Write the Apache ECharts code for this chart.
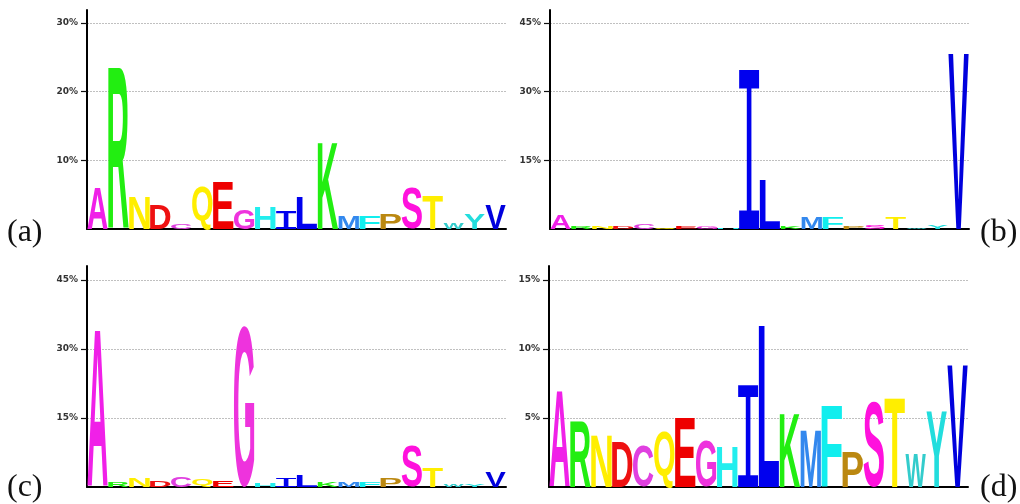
<!DOCTYPE html>
<html>
<head>
<meta charset="utf-8">
<script src="https://cdn.jsdelivr.net/npm/echarts@6/dist/echarts.min.js"></script>
<style>
  html, body { margin: 0; padding: 0; background: #ffffff; }
  #chart { width: 1020px; height: 504px; }
</style>
</head>
<body>
<div id="chart"></div>
<script>
// Amino-acid residues in logo order and their colours
const residues = ['A','R','N','D','C','Q','E','G','H','I','L','K','M','F','P','S','T','W','Y','V'];
const residueColors = ['#f020e8','#22ee11','#ffee00','#ee1111','#e040e0','#ffee00','#ee0000','#ee33dd','#22eeee','#0000ee',
                       '#0000ee','#22ee11','#3388ee','#11eeee','#bb8811','#ff11dd','#ffee00','#33cccc','#22dddd','#0000dd'];

// Residue frequencies (%) for the four panels
const freqA = [6.0, 23.5, 4.7, 3.6, 0.8, 6.2, 6.9, 2.9, 3.2, 2.75, 4.7, 12.65, 1.8, 1.8, 2.3, 5.9, 4.9, 0.9, 2.3, 3.6];
const freqB = [3.2, 0.5, 0.5, 0.4, 1.2, 0.4, 0.6, 0.6, 0.3, 35.1, 10.6, 0.4, 2.6, 2.6, 0.6, 0.9, 2.5, 0.3, 0.7, 38.2];
const freqC = [33.9, 1.1, 1.9, 1.4, 2.2, 1.6, 1.4, 35.0, 0.7, 1.9, 2.4, 1.2, 1.0, 1.1, 1.8, 8.9, 4.1, 0.4, 0.5, 3.3];
const freqD = [6.9, 4.8, 3.7, 3.2, 2.9, 4.1, 5.0, 3.3, 2.9, 7.4, 11.7, 5.3, 4.1, 5.9, 2.5, 6.2, 6.4, 2.4, 5.5, 8.8];

// Per-panel axis settings and tick labels
const panelLabels = ['(a)', '(b)', '(c)', '(d)'];
const axisMax = [31.9, 47.8, 48.0, 16.0];
const tickValues = [[10, 20, 30], [15, 30, 45], [15, 30, 45], [5, 10, 15]];

const panelData = [freqA, freqB, freqC, freqD];

// Plot areas of the 2x2 layout
const grids = [
  { left: 87,  top: 10,  width: 419, height: 219 },
  { left: 550, top: 10,  width: 419, height: 219 },
  { left: 87,  top: 266, width: 419, height: 221 },
  { left: 549, top: 266, width: 419, height: 221 }
];

// Glyph ink metrics, used to stretch each letter over its box
const GLYPH_FONT = 'bold 200px "Liberation Sans"';
const SERIF_I_FONT = '200px "Liberation Mono"';
const measureCtx = document.createElement('canvas').getContext('2d');
const inkCache = {};
function glyphInk(letter) {
  if (!inkCache[letter]) {
    const font = letter === 'I' ? SERIF_I_FONT : GLYPH_FONT;
    measureCtx.font = font;
    measureCtx.textAlign = 'center';
    measureCtx.textBaseline = 'middle';
    const m = measureCtx.measureText(letter);
    inkCache[letter] = {
      font: font,
      L: m.actualBoundingBoxLeft,
      R: m.actualBoundingBoxRight,
      A: m.actualBoundingBoxAscent,
      D: m.actualBoundingBoxDescent
    };
  }
  return inkCache[letter];
}

const SLOT_PAD = 0.3;

function renderLetter(params, api) {
  const idx = api.value(0);
  const v = api.value(1);
  if (!(v > 0)) return null;
  const base = api.coord([idx, 0]);
  const top = api.coord([idx, v]);
  const slot = api.size([1, 0])[0];
  const x0 = base[0] - slot / 2 + SLOT_PAD;
  const x1 = base[0] + slot / 2 - SLOT_PAD;
  const yTop = top[1];
  const yBot = base[1];
  const letter = residues[idx];
  const g = glyphInk(letter);
  const sx = (x1 - x0) / (g.L + g.R);
  const sy = (yBot - yTop) / (g.A + g.D);
  return {
    type: 'text',
    x: x0 + g.L * sx,
    y: yTop + g.A * sy,
    scaleX: sx,
    scaleY: sy,
    silent: true,
    style: {
      text: letter,
      x: 0,
      y: 0,
      font: g.font,
      fill: residueColors[idx],
      align: 'center',
      verticalAlign: 'middle'
    }
  };
}

const xAxes = grids.map((g, i) => ({
  type: 'category',
  gridIndex: i,
  data: residues,
  boundaryGap: true,
  axisLine: { show: true, lineStyle: { color: '#000', width: 2 } },
  axisTick: { show: false },
  axisLabel: { show: false },
  splitLine: { show: false }
}));

const yAxes = grids.map((g, i) => ({
  type: 'value',
  gridIndex: i,
  min: 0,
  max: axisMax[i],
  interval: tickValues[i][0],
  axisLine: { show: true, lineStyle: { color: '#000', width: 2 } },
  axisTick: {
    show: true,
    length: 6,
    customValues: tickValues[i],
    lineStyle: { color: '#111', width: 1.2 }
  },
  axisLabel: {
    show: true,
    customValues: tickValues[i],
    margin: 9,
    formatter: v => v + '%',
    fontFamily: '"DejaVu Sans"',
    fontWeight: 'bold',
    fontSize: 9,
    color: '#333'
  },
  splitLine: {
    show: true,
    showMinLine: true,
    showMaxLine: true,
    lineStyle: { color: '#c0c0c0', type: [2, 1], width: 1 }
  }
}));

const series = panelData.map((vals, i) => ({
  type: 'custom',
  xAxisIndex: i,
  yAxisIndex: i,
  silent: true,
  clip: false,
  renderItem: renderLetter,
  data: vals.map((v, k) => [k, v])
}));

// Panel tags (a)-(d)
const labelPos = [[7, 235], [980, 235], [7, 490], [980, 490]];
const graphics = panelLabels.map((t, i) => ({
  type: 'text',
  left: labelPos[i][0],
  top: labelPos[i][1] - 18,
  silent: true,
  style: {
    text: t,
    font: '32px "Liberation Serif"',
    fill: '#111'
  }
}));

const chart = echarts.init(document.getElementById('chart'), null, { renderer: 'canvas' });
chart.setOption({
  animation: false,
  backgroundColor: '#ffffff',
  grid: grids,
  xAxis: xAxes,
  yAxis: yAxes,
  series: series,
  graphic: graphics
});
</script>
</body>
</html>
